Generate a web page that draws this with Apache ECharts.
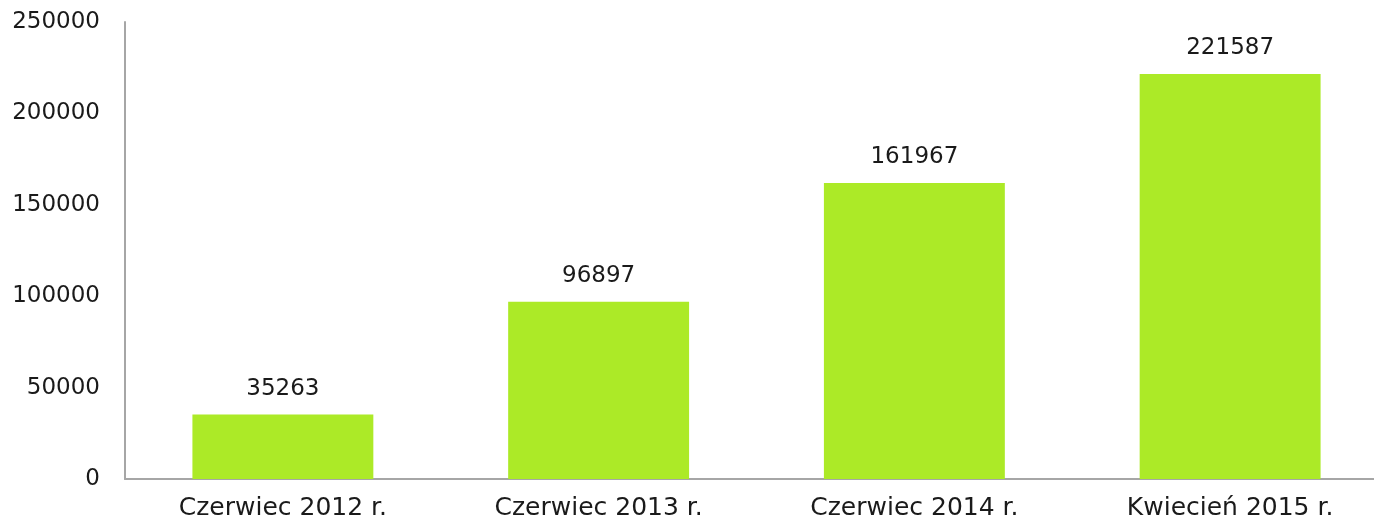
<!DOCTYPE html>
<html><head><meta charset="utf-8">
<script src="https://cdn.jsdelivr.net/npm/echarts@6/dist/echarts.min.js"></script>
<style>html,body{margin:0;padding:0;background:#fff;overflow:hidden}#c{width:1388px;height:527px}</style>
</head><body><div id="c"></div>
<script>
const categories = ['Czerwiec 2012 r.', 'Czerwiec 2013 r.', 'Czerwiec 2014 r.', 'Kwiecień 2015 r.'];
const values = [35263, 96897, 161967, 221587];
const yTicks = { min: 0, max: 250000, interval: 50000 };

const FONT = 'DejaVu Sans';
const chart = echarts.init(document.getElementById('c'), null, { renderer: 'canvas' });
chart.setOption({
  animation: false,
  backgroundColor: '#ffffff',
  grid: { left: 125, right: 0, top: 22, bottom: 48, containLabel: false },
  xAxis: {
    type: 'category',
    data: categories,
    axisLine: { show: true, lineStyle: { color: '#a6a6a6', width: 2 } },
    axisTick: { show: false },
    axisLabel: { color: '#1a1a1a', fontFamily: FONT, fontSize: 25, margin: 17 },
    splitLine: { show: false }
  },
  yAxis: {
    type: 'value',
    min: yTicks.min, max: yTicks.max, interval: yTicks.interval,
    axisLine: { show: true, lineStyle: { color: '#a6a6a6', width: 2 } },
    axisTick: { show: false },
    axisLabel: { color: '#1a1a1a', fontFamily: FONT, fontSize: 23, margin: 25, formatter: v => String(v) },
    splitLine: { show: false }
  },
  series: [{
    type: 'bar',
    data: values,
    barWidth: '57.3%',
    itemStyle: { color: '#acea27' },
    label: { show: true, position: 'top', distance: 14, color: '#1a1a1a', fontFamily: FONT, fontSize: 23 }
  }]
});
</script></body></html>
